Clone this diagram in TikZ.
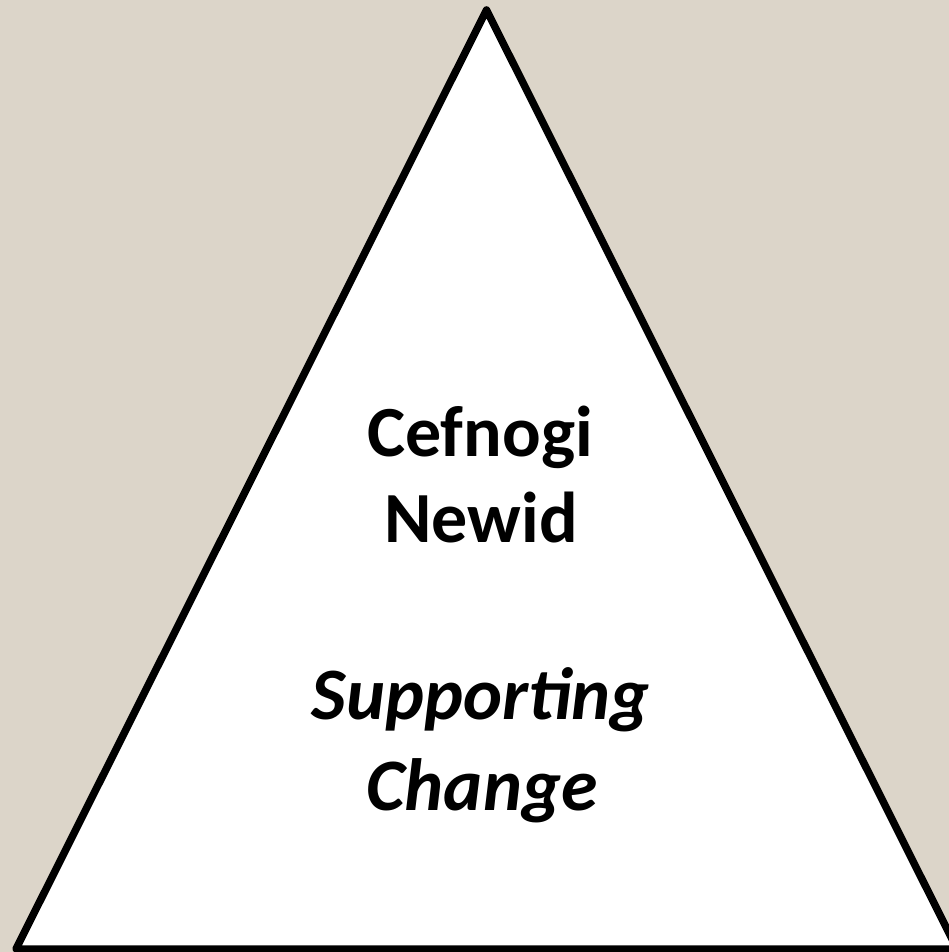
\documentclass[tikz,border=0pt]{standalone}
\usepackage{fontspec}
\setmainfont{Carlito}
\usepackage{tikz}
\usetikzlibrary{positioning}
\definecolor{bgtan}{RGB}{220,213,201}

\begin{document}
\begin{tikzpicture}[
		x=1pt, y=-1pt,
		pyramid/.style={draw=black, fill=white, line width=7.5pt, line join=round},
		mylabel/.style={inner sep=0pt, anchor=base, font=\fontsize{72}{86}\selectfont\bfseries},
		mylabelit/.style={mylabel, font=\fontsize{74}{86}\selectfont\bfseries\itshape},
		]
		\useasboundingbox (0,0) rectangle (949,952);
		\clip (0,0) rectangle (949,952);
		\fill[bgtan] (0,0) rectangle (949,952);
		\coordinate (top) at (486.5, 10);
		\coordinate (bl) at (16, 949);
		\coordinate (br) at (957, 949);
		\draw[pyramid] (top) -- (br) -- (bl) -- cycle;
		
		\node[mylabel] (cefnogi) at (480, 456) {Cefnogi};
		\node[mylabel] (newid) at (481, 542) {Newid};
		\node[mylabelit] (supporting) at (481, 719) {Supporting};
		\node[mylabelit] (change) at (482, 810) {Change};
		
		\end{tikzpicture}
\end{document}
